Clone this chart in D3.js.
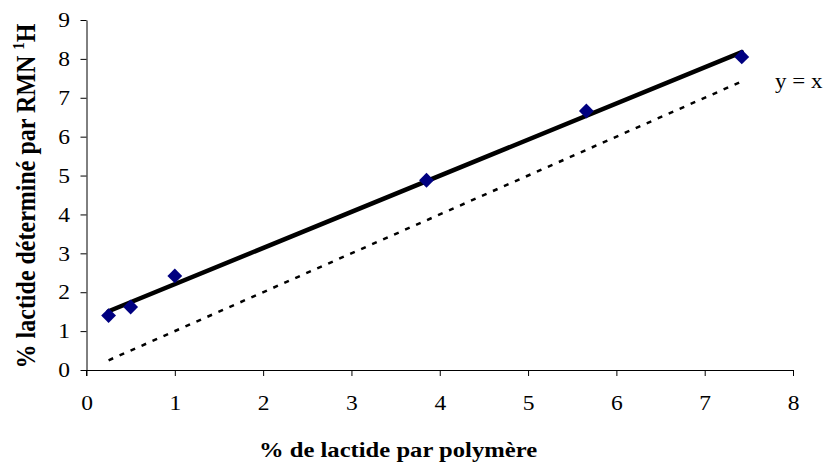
<!doctype html>
<html>
<head>
    <meta charset="utf-8">
    <title>lactide chart</title>
    <script src="https://d3js.org/d3.v7.min.js"></script>
    <style>
        body { margin: 0; background: #fff; }
        text { font-family: "Liberation Serif", "Times New Roman", serif; fill: #000; }
    </style>
</head>
<body>
    <svg width="826" height="465"></svg>
    <script>
        // data
        var xValues = [0.25, 0.5, 1.0, 3.85, 5.66, 7.42];
        var yValues = [1.4, 1.62, 2.42, 4.88, 6.66, 8.05];
        var xTicks = [0, 1, 2, 3, 4, 5, 6, 7, 8];
        var yTicks = [0, 1, 2, 3, 4, 5, 6, 7, 8, 9];

        var svg = d3.select("svg");
        // the original picture is a bit wider than tall, so texts get stretched
        var stretch = 1.12;
        var plot = { left: 86.5, right: 793, top: 20, bottom: 370 };

        var x = d3.scaleLinear().domain([0, 8]).range([plot.left, plot.right]);
        var y = d3.scaleLinear().domain([0, 9]).range([plot.bottom, plot.top]);

        var points = xValues.map(function (d, i) { return { x: d, y: yValues[i] }; });

        // axes
        var xAxis = svg.append("g")
            .attr("transform", "translate(0," + plot.bottom + ")")
            .call(d3.axisBottom(x).tickValues(xTicks).tickSize(6).tickPadding(19).tickSizeOuter(0));
        var yAxis = svg.append("g")
            .attr("transform", "translate(" + plot.left + ",0)")
            .call(d3.axisLeft(y).tickValues(yTicks).tickSize(6).tickPadding(9).tickSizeOuter(0));

        [xAxis, yAxis].forEach(function (a) {
            a.attr("font-family", null).attr("font-size", null);
            a.select(".domain").attr("stroke", "#000").attr("stroke-width", 1);
            a.selectAll(".tick line").attr("stroke", "#000");
            a.selectAll(".tick text")
                .attr("fill", "#000")
                .attr("font-size", "21px")
                .attr("transform", "scale(" + stretch + ",1)");
        });
        yAxis.selectAll(".tick text").attr("x", -16.5 / stretch);

        // y axis runs a little below the x axis
        yAxis.append("line")
            .attr("x1", 0).attr("x2", 0)
            .attr("y1", plot.bottom).attr("y2", plot.bottom + 6)
            .attr("stroke", "#000");

        // y = x reference line (dotted)
        var xMin = d3.min(xValues), xMax = d3.max(xValues);
        svg.append("line")
            .attr("x1", x(xMin)).attr("y1", y(xMin))
            .attr("x2", x(xMax)).attr("y2", y(xMax))
            .attr("stroke", "#000")
            .attr("stroke-width", 2.5)
            .attr("stroke-dasharray", "5,7");

        // linear trend line
        var mx = d3.mean(xValues), my = d3.mean(yValues);
        var sxy = d3.sum(points, function (p) { return (p.x - mx) * (p.y - my); });
        var sxx = d3.sum(points, function (p) { return (p.x - mx) * (p.x - mx); });
        var slope = sxy / sxx, intercept = my - slope * mx;
        svg.append("line")
            .attr("x1", x(xMin)).attr("y1", y(intercept + slope * xMin))
            .attr("x2", x(xMax)).attr("y2", y(intercept + slope * xMax))
            .attr("stroke", "#000")
            .attr("stroke-width", 4.5)
            .attr("stroke-linecap", "round");

        // markers
        svg.selectAll(".pt")
            .data(points)
            .enter()
            .append("path")
            .attr("class", "pt")
            .attr("d", d3.symbol().type(d3.symbolDiamond2).size(140))
            .attr("transform", function (d) { return "translate(" + x(d.x) + "," + y(d.y) + ")"; })
            .attr("fill", "#000080");

        svg.append("text")
            .attr("transform", "translate(775,88) scale(" + stretch + ",1)")
            .attr("font-size", "20.5px")
            .text("y = x");

        // axis titles
        svg.append("text")
            .attr("transform", "translate(398,457) scale(" + stretch + ",1)")
            .attr("text-anchor", "middle")
            .attr("font-size", "22px")
            .attr("font-weight", "bold")
            .text("% de lactide par polymère");

        var yt = svg.append("text")
            .attr("transform", "translate(35,196) scale(" + stretch + ",1) rotate(-90)")
            .attr("text-anchor", "middle")
            .attr("font-size", "24px")
            .attr("font-weight", "bold");
        yt.append("tspan").text("% lactide déterminé par RMN ");
        yt.append("tspan").attr("font-size", "15px").attr("dy", "-10").text("1");
        yt.append("tspan").attr("dy", "10").text("H");
    </script>
</body>
</html>
